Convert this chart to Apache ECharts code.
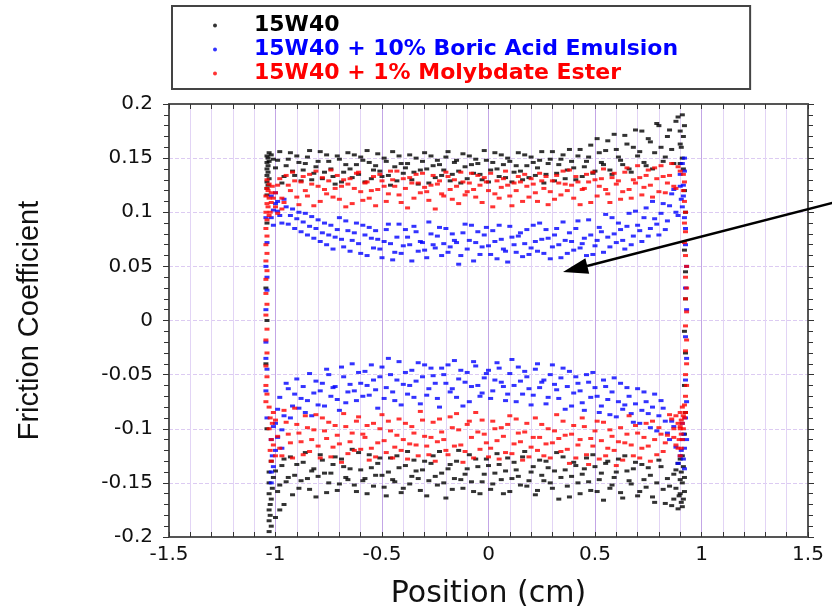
<!DOCTYPE html>
<html><head><meta charset="utf-8">
<script src="https://cdn.jsdelivr.net/npm/echarts@6/dist/echarts.min.js"></script>
<style>html,body{margin:0;padding:0;background:#fff}#c{width:832px;height:611px}</style>
</head><body><div id="c"></div>
<script>
const seriesNames = ['15W40', '15W40 + 10% Boric Acid Emulsion', '15W40 + 1% Molybdate Ester'];
const seriesColors = ['#000000', '#0000ff', '#ff0000'];
const xTicks = [-1.5, -1, -0.5, 0, 0.5, 1, 1.5];
const yTicks = [-0.2, -0.15, -0.1, -0.05, 0, 0.05, 0.1, 0.15, 0.2];

// ---- 15W40 (black) ----
const blackTopA = [[-1,.141],[-.98,.156],[-.96,.133],[-.94,.149],[-.92,.138],[-.9,.152],[-.88,.129],[-.86,.145],[-.84,.157],[-.82,.136],[-.8,.147],[-.78,.131],[-.76,.153],[-.74,.14],[-.72,.126],[-.7,.149],[-.68,.137],[-.66,.155],[-.64,.132],[-.62,.144],[-.6,.151],[-.58,.128],[-.56,.146],[-.54,.139],[-.52,.154],[-.5,.133],[-.48,.147],[-.46,.125],[-.44,.142],[-.42,.152],[-.4,.136],[-.38,.145],[-.36,.13],[-.34,.15],[-.32,.139],[-.3,.155],[-.28,.127],[-.26,.143],[-.24,.148],[-.22,.134],[-.2,.151],[-.18,.129],[-.16,.146],[-.14,.138],[-.12,.154],[-.1,.131],[-.08,.144],[-.06,.149],[-.04,.135],[-.02,.157],[0,.128],[.02,.146],[.04,.14],[.06,.153],[.08,.132],[.1,.147],[.12,.137],[.14,.155],[.16,.13],[.18,.143],[.2,.151],[.22,.134],[.24,.148],[.26,.127],[.28,.145],[.3,.156],[.32,.136],[.34,.149],[.36,.131],[.38,.158],[.4,.141],[.42,.152],[.44,.133],[.46,.147],[.48,.162],[.5,.138],[.52,.155],[.54,.144],[.56,.166],[.58,.135],[.6,.158],[.62,.148],[.64,.171],[.66,.14],[.68,.16],[.7,.152],[.72,.175],[.74,.143],[.76,.165],[.78,.155],[.8,.18],[.82,.147],[.84,.17],[.86,.158],[.88,.184],[.9,.163]];
const blackTopB = [[-.99,.148],[-.97,.127],[-.95,.143],[-.93,.155],[-.91,.134],[-.89,.146],[-.87,.139],[-.85,.151],[-.83,.13],[-.81,.142],[-.79,.156],[-.77,.137],[-.75,.147],[-.73,.133],[-.71,.152],[-.69,.128],[-.67,.144],[-.65,.14],[-.63,.153],[-.61,.135],[-.59,.148],[-.57,.157],[-.55,.131],[-.53,.143],[-.51,.138],[-.49,.15],[-.47,.134],[-.45,.156],[-.43,.129],[-.41,.145],[-.39,.141],[-.37,.153],[-.35,.137],[-.33,.126],[-.31,.147],[-.29,.14],[-.27,.152],[-.25,.132],[-.23,.144],[-.21,.139],[-.19,.156],[-.17,.135],[-.15,.148],[-.13,.127],[-.11,.142],[-.09,.152],[-.07,.136],[-.05,.145],[-.03,.13],[-.01,.148],[.01,.139],[.03,.155],[.05,.133],[.07,.144],[.09,.15],[.11,.128],[.13,.143],[.15,.138],[.17,.153],[.19,.132],[.21,.146],[.23,.141],[.25,.156],[.27,.135],[.29,.149],[.31,.129],[.33,.144],[.35,.153],[.37,.139],[.39,.147],[.41,.13],[.43,.158],[.45,.142],[.47,.151],[.49,.136],[.51,.168],[.53,.146],[.55,.157],[.57,.139],[.59,.172],[.61,.151],[.63,.144],[.65,.163],[.67,.137],[.69,.176],[.71,.156],[.73,.146],[.75,.168],[.77,.14],[.79,.182],[.81,.16],[.83,.151],[.85,.176],[.87,.145],[.89,.188]];
const blackBottomA = [[-1,-.139],[-.98,-.152],[-.96,-.128],[-.94,-.145],[-.92,-.161],[-.9,-.133],[-.88,-.148],[-.86,-.122],[-.84,-.156],[-.82,-.137],[-.8,-.144],[-.78,-.129],[-.76,-.159],[-.74,-.141],[-.72,-.126],[-.7,-.151],[-.68,-.135],[-.66,-.147],[-.64,-.119],[-.62,-.158],[-.6,-.138],[-.58,-.146],[-.56,-.124],[-.54,-.153],[-.52,-.132],[-.5,-.143],[-.48,-.162],[-.46,-.127],[-.44,-.149],[-.42,-.136],[-.4,-.155],[-.38,-.121],[-.36,-.144],[-.34,-.139],[-.32,-.157],[-.3,-.13],[-.28,-.148],[-.26,-.125],[-.24,-.152],[-.22,-.141],[-.2,-.164],[-.18,-.133],[-.16,-.146],[-.14,-.12],[-.12,-.155],[-.1,-.137],[-.08,-.149],[-.06,-.128],[-.04,-.16],[-.02,-.142],[0,-.134],[.02,-.151],[.04,-.123],[.06,-.147],[.08,-.139],[.1,-.158],[.12,-.131],[.14,-.144],[.16,-.126],[.18,-.153],[.2,-.14],[.22,-.161],[.24,-.129],[.26,-.148],[.28,-.136],[.3,-.155],[.32,-.122],[.34,-.145],[.36,-.138],[.38,-.163],[.4,-.131],[.42,-.15],[.44,-.142],[.46,-.127],[.48,-.157],[.5,-.135],[.52,-.147],[.54,-.166],[.56,-.13],[.58,-.152],[.6,-.14],[.62,-.159],[.64,-.125],[.66,-.148],[.68,-.137],[.7,-.162],[.72,-.133],[.74,-.154],[.76,-.143],[.78,-.168],[.8,-.129],[.82,-.156],[.84,-.146],[.86,-.171],[.88,-.138],[.9,-.16]];
const blackBottomB = [[-.99,-.158],[-.97,-.134],[-.95,-.149],[-.93,-.126],[-.91,-.143],[-.89,-.155],[-.87,-.131],[-.85,-.146],[-.83,-.139],[-.81,-.163],[-.79,-.124],[-.77,-.141],[-.75,-.15],[-.73,-.133],[-.71,-.157],[-.69,-.128],[-.67,-.145],[-.65,-.137],[-.63,-.152],[-.61,-.122],[-.59,-.148],[-.57,-.16],[-.55,-.136],[-.53,-.143],[-.51,-.127],[-.49,-.154],[-.47,-.14],[-.45,-.147],[-.43,-.125],[-.41,-.159],[-.39,-.134],[-.37,-.151],[-.35,-.129],[-.33,-.146],[-.31,-.138],[-.29,-.162],[-.27,-.132],[-.25,-.144],[-.23,-.121],[-.21,-.15],[-.19,-.137],[-.17,-.156],[-.15,-.13],[-.13,-.147],[-.11,-.142],[-.09,-.124],[-.07,-.158],[-.05,-.135],[-.03,-.149],[-.01,-.128],[.01,-.156],[.03,-.141],[.05,-.133],[.07,-.16],[.09,-.127],[.11,-.146],[.13,-.138],[.15,-.152],[.17,-.121],[.19,-.148],[.21,-.135],[.23,-.157],[.25,-.143],[.27,-.13],[.29,-.15],[.31,-.139],[.33,-.165],[.35,-.126],[.37,-.153],[.39,-.144],[.41,-.134],[.43,-.16],[.45,-.137],[.47,-.149],[.49,-.124],[.51,-.158],[.53,-.141],[.55,-.132],[.57,-.155],[.59,-.145],[.61,-.128],[.63,-.164],[.65,-.139],[.67,-.151],[.69,-.131],[.71,-.158],[.73,-.147],[.75,-.136],[.77,-.163],[.79,-.15],[.81,-.135],[.83,-.169],[.85,-.153],[.87,-.142],[.89,-.174]];
const blackEdges = [[-1.04,.152],[-1.04,.146],[-1.04,.14],[-1.04,.134],[-1.04,.128],[-1.04,.122],[-1.04,.116],[-1.035,.15],[-1.035,.143],[-1.035,.137],[-1.035,.125],[-1.03,.155],[-1.03,.147],[-1.03,.131],[-1.02,.153],[-1.01,.149],[-1.04,.09],[-1.045,.03],[-1.04,0],[-1.045,-.04],[-1.04,-.1],[-1.03,-.15],[-1.03,-.16],[-1.025,-.17],[-1.03,-.175],[-1.025,-.18],[-1.03,-.185],[-1.02,-.19],[-1.03,-.195],[-1.02,-.165],[-1.015,-.155],[-1.03,-.14],[-1.02,-.13],[-1.01,-.145],[-.98,-.175],[-.96,-.17],[-1,-.182],[.91,.19],[.9,.175],[.905,.16],[.915,.17],[.92,.18],[.91,.15],[.9,.145],[.915,.14],[.92,.12],[.925,.1],[.92,.065],[.925,.045],[.925,.02],[.92,-.01],[.925,-.03],[.92,-.06],[.925,-.085],[.92,-.105],[.9,-.128],[.91,-.15],[.915,-.165],[.905,-.14],[.92,-.158],[.91,-.172],[.9,-.147],[.895,-.162],[.915,-.135],[.92,-.145],[.91,-.125],[.905,-.168],[.88,-.155],[.87,-.165],[.89,-.132]];

// ---- 15W40 + 10% Boric Acid Emulsion (blue) ----
const blueTopA = [[-1,.108],[-.98,.097],[-.96,.112],[-.94,.089],[-.92,.103],[-.9,.094],[-.88,.082],[-.86,.099],[-.84,.087],[-.82,.076],[-.8,.093],[-.78,.081],[-.76,.07],[-.74,.088],[-.72,.077],[-.7,.095],[-.68,.068],[-.66,.083],[-.64,.074],[-.62,.09],[-.6,.062],[-.58,.079],[-.56,.086],[-.54,.067],[-.52,.075],[-.5,.058],[-.48,.084],[-.46,.071],[-.44,.063],[-.42,.089],[-.4,.069],[-.38,.077],[-.36,.055],[-.34,.082],[-.32,.073],[-.3,.065],[-.28,.091],[-.26,.07],[-.24,.078],[-.22,.06],[-.2,.085],[-.18,.068],[-.16,.074],[-.14,.052],[-.12,.081],[-.1,.066],[-.08,.088],[-.06,.072],[-.04,.061],[-.02,.079],[0,.069],[.02,.083],[.04,.057],[.06,.075],[.08,.064],[.1,.087],[.12,.07],[.14,.078],[.16,.059],[.18,.084],[.2,.067],[.22,.073],[.24,.09],[.26,.062],[.28,.076],[.3,.068],[.32,.085],[.34,.058],[.36,.074],[.38,.081],[.4,.065],[.42,.092],[.44,.071],[.46,.06],[.48,.079],[.5,.069],[.52,.086],[.54,.063],[.56,.077],[.58,.095],[.6,.072],[.62,.084],[.64,.066],[.66,.099],[.68,.078],[.7,.088],[.72,.073],[.74,.104],[.76,.085],[.78,.094],[.8,.079],[.82,.108],[.84,.092],[.86,.117],[.88,.1],[.9,.124]];
const blueTopB = [[-.99,.101],[-.97,.09],[-.95,.105],[-.93,.097],[-.91,.085],[-.89,.1],[-.87,.091],[-.85,.079],[-.83,.096],[-.81,.085],[-.79,.073],[-.77,.09],[-.75,.079],[-.73,.066],[-.71,.084],[-.69,.075],[-.67,.092],[-.65,.064],[-.63,.081],[-.61,.071],[-.59,.088],[-.57,.06],[-.55,.076],[-.53,.083],[-.51,.066],[-.49,.073],[-.47,.089],[-.45,.056],[-.43,.077],[-.41,.062],[-.39,.084],[-.37,.07],[-.35,.087],[-.33,.064],[-.31,.072],[-.29,.058],[-.27,.08],[-.25,.067],[-.23,.086],[-.21,.071],[-.19,.063],[-.17,.08],[-.15,.072],[-.13,.06],[-.11,.089],[-.09,.074],[-.07,.055],[-.05,.082],[-.03,.068],[-.01,.086],[.01,.061],[.03,.073],[.05,.088],[.07,.066],[.09,.054],[.11,.077],[.13,.063],[.15,.081],[.17,.071],[.19,.061],[.21,.088],[.23,.064],[.25,.075],[.27,.084],[.29,.057],[.31,.079],[.33,.07],[.35,.091],[.37,.062],[.39,.073],[.41,.085],[.43,.067],[.45,.076],[.47,.093],[.49,.061],[.51,.074],[.53,.082],[.55,.098],[.57,.068],[.59,.08],[.61,.09],[.63,.074],[.65,.087],[.67,.07],[.69,.101],[.71,.083],[.73,.095],[.75,.078],[.77,.11],[.79,.089],[.81,.099],[.83,.084],[.85,.106],[.87,.121],[.89,.097]];
const blueBottomA = [[-1,-.095],[-.98,-.071],[-.96,-.088],[-.94,-.063],[-.92,-.079],[-.9,-.054],[-.88,-.072],[-.86,-.085],[-.84,-.049],[-.82,-.067],[-.8,-.078],[-.78,-.058],[-.76,-.045],[-.74,-.07],[-.72,-.061],[-.7,-.083],[-.68,-.052],[-.66,-.066],[-.64,-.04],[-.62,-.074],[-.6,-.058],[-.58,-.047],[-.56,-.069],[-.54,-.055],[-.52,-.081],[-.5,-.043],[-.48,-.062],[-.46,-.05],[-.44,-.074],[-.42,-.038],[-.4,-.059],[-.38,-.068],[-.36,-.046],[-.34,-.056],[-.32,-.077],[-.3,-.041],[-.28,-.063],[-.26,-.051],[-.24,-.072],[-.22,-.044],[-.2,-.058],[-.18,-.066],[-.16,-.037],[-.14,-.054],[-.12,-.079],[-.1,-.048],[-.08,-.061],[-.06,-.042],[-.04,-.07],[-.02,-.053],[0,-.046],[.02,-.065],[.04,-.039],[.06,-.057],[.08,-.074],[.1,-.049],[.12,-.06],[.14,-.043],[.16,-.068],[.18,-.052],[.2,-.078],[.22,-.045],[.24,-.062],[.26,-.055],[.28,-.071],[.3,-.041],[.32,-.064],[.34,-.053],[.36,-.082],[.38,-.047],[.4,-.067],[.42,-.058],[.44,-.076],[.46,-.05],[.48,-.071],[.5,-.062],[.52,-.085],[.54,-.055],[.56,-.073],[.58,-.066],[.6,-.089],[.62,-.058],[.64,-.078],[.66,-.07],[.68,-.094],[.7,-.063],[.72,-.083],[.74,-.075],[.76,-.099],[.78,-.068],[.8,-.088],[.82,-.081],[.84,-.104],[.86,-.093],[.88,-.117],[.9,-.125]];
const blueBottomB = [[-.99,-.082],[-.97,-.101],[-.95,-.058],[-.93,-.09],[-.91,-.068],[-.89,-.081],[-.87,-.061],[-.85,-.074],[-.83,-.088],[-.81,-.056],[-.79,-.065],[-.77,-.079],[-.75,-.05],[-.73,-.062],[-.71,-.073],[-.69,-.043],[-.67,-.076],[-.65,-.059],[-.63,-.065],[-.61,-.048],[-.59,-.07],[-.57,-.06],[-.55,-.041],[-.53,-.064],[-.51,-.052],[-.49,-.072],[-.47,-.035],[-.45,-.066],[-.43,-.055],[-.41,-.078],[-.39,-.048],[-.37,-.06],[-.35,-.071],[-.33,-.039],[-.31,-.052],[-.29,-.069],[-.27,-.044],[-.25,-.058],[-.23,-.08],[-.21,-.05],[-.19,-.041],[-.17,-.063],[-.15,-.071],[-.13,-.046],[-.11,-.057],[-.09,-.075],[-.07,-.038],[-.05,-.06],[-.03,-.067],[-.01,-.049],[.01,-.072],[.03,-.055],[.05,-.044],[.07,-.061],[.09,-.068],[.11,-.036],[.13,-.075],[.15,-.056],[.17,-.047],[.19,-.063],[.21,-.069],[.23,-.04],[.25,-.057],[.27,-.077],[.29,-.05],[.31,-.059],[.33,-.072],[.35,-.044],[.37,-.061],[.39,-.079],[.41,-.052],[.43,-.065],[.45,-.083],[.47,-.057],[.49,-.048],[.51,-.07],[.53,-.079],[.55,-.061],[.57,-.087],[.59,-.053],[.61,-.075],[.63,-.082],[.65,-.062],[.67,-.086],[.69,-.077],[.71,-.095],[.73,-.066],[.75,-.086],[.77,-.08],[.79,-.102],[.81,-.074],[.83,-.093],[.85,-.11],[.87,-.098],[.89,-.132]];
const blueEdges = [[-1.02,.115],[-1.01,.102],[-1.02,.095],[-1,.118],[-.99,.11],[-1.01,.088],[.9,.135],[.91,.145],[.905,.112],[.915,.125],[.92,.15],[.91,.105],[.92,.138],[.915,.115],[.92,.095],[.925,.085],[-1.02,-.11],[-1.015,-.125],[-1.02,-.14],[-1.01,-.098],[-1,-.12],[-1.02,-.15],[-.99,-.108],[-.97,-.118],[-1.01,-.135],[.91,-.11],[.915,-.128],[.92,-.137],[.905,-.12],[.91,-.095],[.92,-.118],[.915,-.105],[-1.045,.095],[-1.04,.072],[-1.045,.05],[-1.04,.028],[-1.045,.01],[-1.045,-.02],[-1.04,-.045],[-1.045,-.065],[-1.04,-.09],[-1.045,-.035],[-1.04,.04],[.925,.07],[.93,.05],[.925,.03],[.93,.01],[.925,-.015],[.93,-.035],[.925,-.055],[.93,-.075],[.925,-.09],[.93,-.11]];

// ---- 15W40 + 1% Molybdate Ester (red) ----
const redTopA = [[-1,.118],[-.98,.131],[-.96,.109],[-.94,.125],[-.92,.137],[-.9,.114],[-.88,.128],[-.86,.12],[-.84,.135],[-.82,.106],[-.8,.124],[-.78,.132],[-.76,.117],[-.74,.139],[-.72,.122],[-.7,.112],[-.68,.13],[-.66,.126],[-.64,.108],[-.62,.136],[-.6,.119],[-.58,.127],[-.56,.113],[-.54,.133],[-.52,.121],[-.5,.129],[-.48,.11],[-.46,.138],[-.44,.124],[-.42,.116],[-.4,.131],[-.38,.104],[-.36,.127],[-.34,.135],[-.32,.118],[-.3,.123],[-.28,.111],[-.26,.134],[-.24,.126],[-.22,.117],[-.2,.137],[-.18,.121],[-.16,.13],[-.14,.108],[-.12,.128],[-.1,.119],[-.08,.136],[-.06,.114],[-.04,.125],[-.02,.132],[0,.12],[.02,.105],[.04,.129],[.06,.123],[.08,.138],[.1,.115],[.12,.127],[.14,.133],[.16,.11],[.18,.124],[.2,.131],[.22,.118],[.24,.136],[.26,.122],[.28,.107],[.3,.129],[.32,.134],[.34,.116],[.36,.126],[.38,.139],[.4,.113],[.42,.128],[.44,.121],[.46,.135],[.48,.109],[.5,.13],[.52,.124],[.54,.14],[.56,.117],[.58,.132],[.6,.126],[.62,.112],[.64,.137],[.66,.121],[.68,.13],[.7,.143],[.72,.116],[.74,.134],[.76,.125],[.78,.141],[.8,.119],[.82,.133],[.84,.127],[.86,.145],[.88,.122],[.9,.138]];
const redTopB = [[-.99,.125],[-.97,.113],[-.95,.134],[-.93,.12],[-.91,.129],[-.89,.107],[-.87,.133],[-.85,.115],[-.83,.126],[-.81,.138],[-.79,.11],[-.77,.121],[-.75,.129],[-.73,.114],[-.71,.134],[-.69,.124],[-.67,.105],[-.65,.131],[-.63,.122],[-.61,.137],[-.59,.111],[-.57,.128],[-.55,.12],[-.53,.106],[-.51,.135],[-.49,.124],[-.47,.117],[-.45,.13],[-.43,.138],[-.41,.109],[-.39,.122],[-.37,.132],[-.35,.113],[-.33,.127],[-.31,.136],[-.29,.119],[-.27,.125],[-.25,.103],[-.23,.129],[-.21,.115],[-.19,.133],[-.17,.112],[-.15,.124],[-.13,.137],[-.11,.116],[-.09,.127],[-.07,.121],[-.05,.134],[-.03,.109],[-.01,.128],[.01,.136],[.03,.117],[.05,.113],[.07,.131],[.09,.125],[.11,.106],[.13,.12],[.15,.128],[.17,.135],[.19,.114],[.21,.126],[.23,.11],[.25,.129],[.27,.133],[.29,.119],[.31,.112],[.33,.127],[.35,.138],[.37,.12],[.39,.125],[.41,.133],[.43,.107],[.45,.122],[.47,.128],[.49,.137],[.51,.115],[.53,.131],[.55,.121],[.57,.109],[.59,.136],[.61,.129],[.63,.119],[.65,.141],[.67,.113],[.69,.127],[.71,.132],[.73,.123],[.75,.139],[.77,.114],[.79,.131],[.81,.143],[.83,.118],[.85,.134],[.87,.124],[.89,.142]];
const redBottomA = [[-1,-.092],[-.98,-.118],[-.96,-.083],[-.94,-.105],[-.92,-.127],[-.9,-.096],[-.88,-.112],[-.86,-.088],[-.84,-.121],[-.82,-.101],[-.8,-.116],[-.78,-.09],[-.76,-.109],[-.74,-.126],[-.72,-.097],[-.7,-.114],[-.68,-.086],[-.66,-.123],[-.64,-.104],[-.62,-.093],[-.6,-.119],[-.58,-.108],[-.56,-.129],[-.54,-.095],[-.52,-.113],[-.5,-.087],[-.48,-.122],[-.46,-.102],[-.44,-.117],[-.42,-.091],[-.4,-.11],[-.38,-.128],[-.36,-.098],[-.34,-.115],[-.32,-.084],[-.3,-.107],[-.28,-.124],[-.26,-.094],[-.24,-.112],[-.22,-.103],[-.2,-.12],[-.18,-.089],[-.16,-.116],[-.14,-.101],[-.12,-.131],[-.1,-.096],[-.08,-.108],[-.06,-.085],[-.04,-.119],[-.02,-.105],[0,-.126],[.02,-.093],[.04,-.111],[.06,-.099],[.08,-.122],[.1,-.088],[.12,-.114],[.14,-.104],[.16,-.129],[.18,-.095],[.2,-.117],[.22,-.09],[.24,-.108],[.26,-.125],[.28,-.1],[.3,-.113],[.32,-.087],[.34,-.121],[.36,-.106],[.38,-.132],[.4,-.097],[.42,-.115],[.44,-.09],[.46,-.124],[.48,-.109],[.5,-.102],[.52,-.128],[.54,-.094],[.56,-.118],[.58,-.107],[.6,-.134],[.62,-.099],[.64,-.113],[.66,-.088],[.68,-.125],[.7,-.104],[.72,-.118],[.74,-.095],[.76,-.13],[.78,-.11],[.8,-.099],[.82,-.121],[.84,-.106],[.86,-.091],[.88,-.115],[.9,-.1]];
const redBottomB = [[-.99,-.107],[-.97,-.125],[-.95,-.094],[-.93,-.113],[-.91,-.081],[-.89,-.104],[-.87,-.124],[-.85,-.099],[-.83,-.11],[-.81,-.087],[-.79,-.127],[-.77,-.102],[-.75,-.094],[-.73,-.117],[-.71,-.106],[-.69,-.131],[-.67,-.098],[-.65,-.112],[-.63,-.12],[-.61,-.089],[-.59,-.105],[-.57,-.097],[-.55,-.118],[-.53,-.126],[-.51,-.1],[-.49,-.111],[-.47,-.093],[-.45,-.127],[-.43,-.106],[-.41,-.12],[-.39,-.095],[-.37,-.114],[-.35,-.104],[-.33,-.125],[-.31,-.092],[-.29,-.116],[-.27,-.108],[-.25,-.13],[-.23,-.091],[-.21,-.11],[-.19,-.124],[-.17,-.099],[-.15,-.086],[-.13,-.115],[-.11,-.121],[-.09,-.093],[-.07,-.127],[-.05,-.103],[-.03,-.092],[-.01,-.113],[.01,-.118],[.03,-.1],[.05,-.128],[.07,-.107],[.09,-.096],[.11,-.123],[.13,-.091],[.15,-.112],[.17,-.103],[.19,-.126],[.21,-.108],[.23,-.12],[.25,-.096],[.27,-.114],[.29,-.127],[.31,-.102],[.33,-.109],[.35,-.093],[.37,-.119],[.39,-.105],[.41,-.127],[.43,-.11],[.45,-.098],[.47,-.133],[.49,-.116],[.51,-.093],[.53,-.111],[.55,-.125],[.57,-.101],[.59,-.12],[.61,-.112],[.63,-.129],[.65,-.105],[.67,-.115],[.69,-.097],[.71,-.127],[.73,-.108],[.75,-.116],[.77,-.093],[.79,-.124],[.81,-.105],[.83,-.113],[.85,-.087],[.87,-.108],[.89,-.118]];
const redEdges = [[-1.04,.13],[-1.04,.122],[-1.045,.115],[-1.04,.108],[-1.045,.1],[-1.04,.093],[-1.035,.12],[-1.03,.113],[-1.035,.105],[-1.03,.126],[-1.02,.118],[-1.02,.109],[-1.015,.124],[-1.01,.113],[-1.025,.1],[-1.03,.097],[-1,.105],[-.99,.099],[-.97,.103],[-1.045,.085],[-1.04,.078],[-1.045,.07],[-1.04,.062],[-1.045,.055],[-1.04,.046],[-1.045,.038],[-1.045,.025],[-1.04,.015],[-1.045,.005],[-1.04,-.008],[-1.045,-.018],[-1.04,-.03],[-1.045,-.042],[-1.04,-.052],[-1.045,-.06],[-1.04,-.068],[-1.045,-.075],[.915,.135],[.92,.128],[.915,.12],[.92,.11],[.925,.1],[.92,.09],[.925,.082],[.92,.072],[.925,.06],[.93,.05],[.925,.04],[.93,.03],[.925,.02],[.93,.008],[.925,-.005],[.93,-.018],[.925,-.028],[.93,-.04],[.925,-.05],[.93,-.06],[.925,-.07],[.92,-.078],[.925,-.085],[.9,-.085],[.905,-.092],[.91,-.08],[.9,-.098],[.905,-.105],[.91,-.095],[.915,-.088],[.895,-.11],[.91,-.11],[.905,-.118],[.89,-.095],[.88,-.088],[.915,-.1],[.9,-.125],[.87,-.1],[.92,-.09],[-1.03,-.08],[-1.025,-.09],[-1.03,-.1],[-1.02,-.11],[-1.025,-.12],[-1.015,-.095],[-1.02,-.13],[-1.01,-.085],[-1,-.125],[-1.01,-.115]];

const seriesData = [
  [].concat(blackTopA, blackTopB, blackBottomA, blackBottomB, blackEdges),
  [].concat(blueTopA, blueTopB, blueBottomA, blueBottomB, blueEdges),
  [].concat(redTopA, redTopB, redBottomA, redBottomB, redEdges)
];

const chart = echarts.init(document.getElementById('c'), null, {renderer: 'canvas'});
const axisColor = '#555';
const fmtTick = v => String(Math.round(v * 100) / 100);
const labelFont = {fontFamily: 'DejaVu Sans', fontSize: 20, color: '#111', formatter: fmtTick};
const xMin = xTicks[0], xMax = xTicks[xTicks.length - 1], xStep = xTicks[1] - xTicks[0];
const yMin = yTicks[0], yMax = yTicks[yTicks.length - 1], yStep = yTicks[1] - yTicks[0];

chart.setOption({
  animation: false,
  backgroundColor: '#fff',
  grid: {left: 169, right: 24, top: 104, bottom: 74, containLabel: false, outerBoundsMode: 'none'},
  legend: {
    orient: 'vertical', left: 172, top: 6,
    padding: [8, 72, 4, 41], itemGap: 1,
    borderColor: '#444', borderWidth: 2, backgroundColor: '#fff',
    icon: 'circle', itemWidth: 4, itemHeight: 4,
    selectedMode: false,
    formatter: n => '{s|}' + n,
    textStyle: {fontFamily: 'DejaVu Sans', fontWeight: 'bold', fontSize: 22, lineHeight: 23,
      rich: {s: {width: 32}}},
    data: seriesNames.map((n, i) => ({name: n, textStyle: {color: seriesColors[i]}}))
  },
  xAxis: [{
    type: 'value', position: 'bottom', min: xMin, max: xMax, interval: xStep,
    axisLine: {onZero: false, lineStyle: {color: axisColor, width: 2}},
    axisTick: {inside: true, length: 5, lineStyle: {color: '#333'}},
    minorTick: {show: true, splitNumber: 5, length: 5, lineStyle: {color: '#333'}},
    splitLine: {show: true, lineStyle: {color: '#c3a6e6', width: 1}},
    minorSplitLine: {show: true, lineStyle: {color: '#e2d4f5', width: 1}},
    axisLabel: Object.assign({margin: 8}, labelFont),
    name: 'Position (cm)', nameLocation: 'middle', nameGap: 42,
    nameTextStyle: {fontFamily: 'DejaVu Sans', fontSize: 30, color: '#111'}
  }, {
    type: 'value', position: 'top', min: xMin, max: xMax, interval: xStep,
    axisLine: {onZero: false, lineStyle: {color: axisColor, width: 2}},
    axisTick: {inside: true, length: 5, lineStyle: {color: '#333'}},
    minorTick: {show: true, splitNumber: 5, length: 5, lineStyle: {color: '#333'}},
    splitLine: {show: false}, axisLabel: {show: false}
  }],
  yAxis: [{
    type: 'value', position: 'left', min: yMin, max: yMax, interval: yStep,
    axisLine: {onZero: false, lineStyle: {color: axisColor, width: 2}},
    axisTick: {inside: false, length: 6, lineStyle: {color: '#333'}},
    minorTick: {show: true, splitNumber: 5, length: 5, lineStyle: {color: '#333'}},
    splitLine: {show: true, lineStyle: {color: '#dccbf2', type: 'dashed', width: 1}},
    axisLabel: Object.assign({margin: 16}, labelFont),
    name: 'Friction Coefficient', nameLocation: 'middle', nameGap: 125,
    nameTextStyle: {fontFamily: 'Liberation Sans', fontSize: 29, color: '#111'}
  }, {
    type: 'value', position: 'right', min: yMin, max: yMax, interval: yStep,
    axisLine: {onZero: false, lineStyle: {color: axisColor, width: 2}},
    axisTick: {inside: false, length: 6, lineStyle: {color: '#333'}},
    minorTick: {show: true, splitNumber: 5, length: 5, lineStyle: {color: '#333'}},
    splitLine: {show: false}, axisLabel: {show: false}
  }],
  series: seriesNames.map((n, i) => ({
    name: n, type: 'scatter', xAxisIndex: 0, yAxisIndex: 0,
    symbol: 'rect', symbolSize: [5, 3],
    itemStyle: {color: seriesColors[i]},
    silent: true, data: seriesData[i]
  })),
  graphic: [
    {type: 'line', z: 100, shape: {x1: 587, y1: 266, x2: 836, y2: 202},
     style: {stroke: '#000', lineWidth: 2.5}},
    {type: 'polygon', z: 100, shape: {points: [[563, 272], [589.2, 273.8], [585.4, 258.2]]},
     style: {fill: '#000'}}
  ]
});
</script>
</body></html>
